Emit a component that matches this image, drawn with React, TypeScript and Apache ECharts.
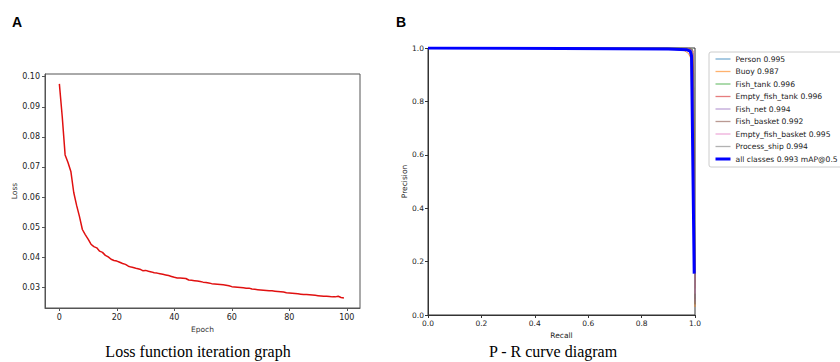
import React, { useEffect, useRef } from 'react';
import * as echarts from 'echarts';

// Loss per epoch (epochs 0..99)
const lossValues = [
  0.0976, 0.0867, 0.0740, 0.0715, 0.0685, 0.0615, 0.0572, 0.0535, 0.0492, 0.0475,
  0.0460, 0.0443, 0.0435, 0.0431, 0.0420, 0.0416, 0.0406, 0.0401, 0.0393, 0.0389,
  0.0387, 0.0383, 0.0379, 0.0376, 0.0370, 0.0367, 0.0365, 0.0362, 0.0360, 0.0355,
  0.0356, 0.0353, 0.0351, 0.0348, 0.0347, 0.0345, 0.0343, 0.0341, 0.0339, 0.0336,
  0.0333, 0.0331, 0.0331, 0.0330, 0.0329, 0.0324, 0.0323, 0.0322, 0.0321, 0.0319,
  0.0317, 0.0316, 0.0314, 0.0312, 0.0311, 0.0310, 0.0309, 0.0308, 0.0307, 0.0305,
  0.0302, 0.0301, 0.0300, 0.0299, 0.0298, 0.0297, 0.0297, 0.0294, 0.0293, 0.0292,
  0.0291, 0.0290, 0.0289, 0.0288, 0.0288, 0.0287, 0.0286, 0.0285, 0.0284, 0.0282,
  0.0281, 0.0280, 0.0279, 0.0278, 0.0277, 0.0276, 0.0276, 0.0275, 0.0274, 0.0273,
  0.0272, 0.0271, 0.0270, 0.0270, 0.0269, 0.0268, 0.0268, 0.0270, 0.0266, 0.0264,
];
const epochTicks = [0, 20, 40, 60, 80, 100];
const lossTicks = [0.03, 0.04, 0.05, 0.06, 0.07, 0.08, 0.09, 0.10];

// P-R curves: [recall, precision]
const prPerson = [[0, 1], [0.95, 0.999], [0.985, 0.995], [0.992, 0.98], [1.0, 0.06]];
const prBuoy = [[0, 1], [0.9, 0.997], [0.96, 0.99], [0.975, 0.98], [0.985, 0.96], [0.993, 0.5], [1.0, 0.03]];
const prFishTank = [[0, 1], [0.97, 0.999], [0.99, 0.995], [0.995, 0.9], [1.0, 0.1]];
const prEmptyFishTank = [[0, 1], [0.98, 0.999], [0.993, 0.99], [1.0, 0.1]];
const prFishNet = [[0, 1], [0.97, 0.998], [0.99, 0.99], [1.0, 0.05]];
const prFishBasket = [[0, 1], [0.96, 0.997], [0.985, 0.99], [0.995, 0.85], [1.0, 0.04]];
const prEmptyFishBasket = [[0, 1], [0.97, 0.998], [0.99, 0.99], [1.0, 0.08]];
const prProcessShip = [[0, 1], [0.97, 0.998], [0.99, 0.995], [1.0, 0.04]];
const prAll = [[0, 1], [0.5, 0.998], [0.9, 0.996], [0.97, 0.993], [0.982, 0.988], [0.987, 0.97], [0.997, 0.155]];

const classNames = [
  'Person 0.995', 'Buoy 0.987', 'Fish_tank 0.996', 'Empty_fish_tank 0.996',
  'Fish_net 0.994', 'Fish_basket 0.992', 'Empty_fish_basket 0.995', 'Process_ship 0.994',
];
const classData = [prPerson, prBuoy, prFishTank, prEmptyFishTank, prFishNet, prFishBasket, prEmptyFishBasket, prProcessShip];
const classColors = ['#1f77b4', '#ff7f0e', '#2ca02c', '#d62728', '#9467bd', '#8c564b', '#e377c2', '#7f7f7f'];
const allName = 'all classes 0.993 mAP@0.5';

const FONT = 'DejaVu Sans';

export default function App() {
  const ref = useRef<HTMLDivElement>(null);
  useEffect(() => {
    if (!ref.current) return;
    const chart = echarts.init(ref.current, undefined, { renderer: 'svg' });
    const axisLabelBase = { fontSize: 7.5, color: '#222', fontFamily: FONT };
    const series: any[] = [
      {
        type: 'line', xAxisIndex: 0, yAxisIndex: 0, symbol: 'none',
        data: lossValues.map((v, i) => [i, v]),
        lineStyle: { color: '#e01010', width: 1.5 },
      },
    ];
    classData.forEach((d, i) => {
      series.push({
        type: 'line', name: classNames[i], xAxisIndex: 1, yAxisIndex: 1, symbol: 'none',
        data: d, color: classColors[i],
        lineStyle: { color: classColors[i], width: 1, opacity: 0.75 },
      });
    });
    series.push({
      type: 'line', name: allName, xAxisIndex: 1, yAxisIndex: 1, symbol: 'none',
      data: prAll, color: '#0000ff',
      lineStyle: { color: '#0000ff', width: 3 },
    });
    const legendData = [
      ...classNames.map((n, i) => ({ name: n, lineStyle: { color: classColors[i], width: 1.3, opacity: 0.6 } })),
      { name: allName, lineStyle: { color: '#0000ff', width: 3 } },
    ];
    chart.setOption({
      animation: false,
      backgroundColor: '#fff',
      grid: [
        { left: 45, top: 74, width: 315, height: 234, show: true, borderColor: '#555', borderWidth: 1 },
        { left: 428, top: 48, width: 267, height: 267, show: true, borderColor: '#333', borderWidth: 1 },
      ],
      xAxis: [
        {
          type: 'value', gridIndex: 0, min: -5, max: 104.6,
          axisLine: { show: true, onZero: false, lineStyle: { color: '#555' } },
          axisTick: { show: true, customValues: epochTicks, length: 3, lineStyle: { color: '#555' } },
          axisLabel: { ...axisLabelBase, fontSize: 8, customValues: epochTicks, margin: 5 },
          splitLine: { show: false },
          name: 'Epoch', nameLocation: 'middle', nameGap: 14,
          nameTextStyle: { fontSize: 7.5, color: '#333', fontFamily: FONT },
        },
        {
          type: 'value', gridIndex: 1, min: 0, max: 1, interval: 0.2,
          axisLine: { show: true, onZero: false, lineStyle: { color: '#333' } },
          axisTick: { show: true, length: 3, lineStyle: { color: '#333' } },
          axisLabel: { ...axisLabelBase, margin: 4, formatter: (v: number) => v.toFixed(1) },
          splitLine: { show: false },
          name: 'Recall', nameLocation: 'middle', nameGap: 14,
          nameTextStyle: { fontSize: 7.5, color: '#222', fontFamily: FONT },
        },
      ],
      yAxis: [
        {
          type: 'value', gridIndex: 0, min: 0.0231, max: 0.1009,
          axisLine: { show: true, onZero: false, lineStyle: { color: '#555' } },
          axisTick: { show: true, customValues: lossTicks, length: 3, lineStyle: { color: '#555' } },
          axisLabel: { ...axisLabelBase, fontSize: 8, customValues: lossTicks, margin: 5, formatter: (v: number) => v.toFixed(2) },
          splitLine: { show: false },
          name: 'Loss', nameLocation: 'middle', nameGap: 25, nameRotate: 90,
          nameTextStyle: { fontSize: 7.5, color: '#333', fontFamily: FONT },
        },
        {
          type: 'value', gridIndex: 1, min: 0, max: 1, interval: 0.2,
          axisLine: { show: true, onZero: false, lineStyle: { color: '#333' } },
          axisTick: { show: true, length: 3, lineStyle: { color: '#333' } },
          axisLabel: { ...axisLabelBase, margin: 4, formatter: (v: number) => v.toFixed(1) },
          splitLine: { show: false },
          name: 'Precision', nameLocation: 'middle', nameGap: 19, nameRotate: 90,
          nameTextStyle: { fontSize: 7.5, color: '#222', fontFamily: FONT },
        },
      ],
      legend: {
        data: legendData,
        orient: 'vertical', left: 709, top: 52,
        itemWidth: 15, itemHeight: 7, itemGap: 4.5,
        padding: [3, 6, 4, 5],
        borderColor: '#ccc', borderWidth: 1, borderRadius: 2, backgroundColor: '#fff',
        textStyle: { fontSize: 7.6, color: '#222', fontFamily: FONT },
        itemStyle: { opacity: 0 },
        selectedMode: false,
      },
      graphic: [
        { type: 'text', left: 12, top: 15, style: { text: 'A', fontSize: 14, fontWeight: 'bold', fontFamily: 'Liberation Sans', fill: '#000' } },
        { type: 'text', left: 396, top: 15, style: { text: 'B', fontSize: 14, fontWeight: 'bold', fontFamily: 'Liberation Sans', fill: '#000' } },
        { type: 'text', x: 198, y: 351, style: { text: 'Loss function iteration graph', fontSize: 16, fontFamily: 'Liberation Serif', fill: '#000', align: 'center', verticalAlign: 'middle' } },
        { type: 'text', x: 553, y: 351, style: { text: 'P - R curve diagram', fontSize: 16, fontFamily: 'Liberation Serif', fill: '#000', align: 'center', verticalAlign: 'middle' } },
      ],
      series,
    });
    return () => chart.dispose();
  }, []);
  return <div ref={ref} style={{ position: 'fixed', left: 0, top: 0, width: 840, height: 362 }} />;
}
